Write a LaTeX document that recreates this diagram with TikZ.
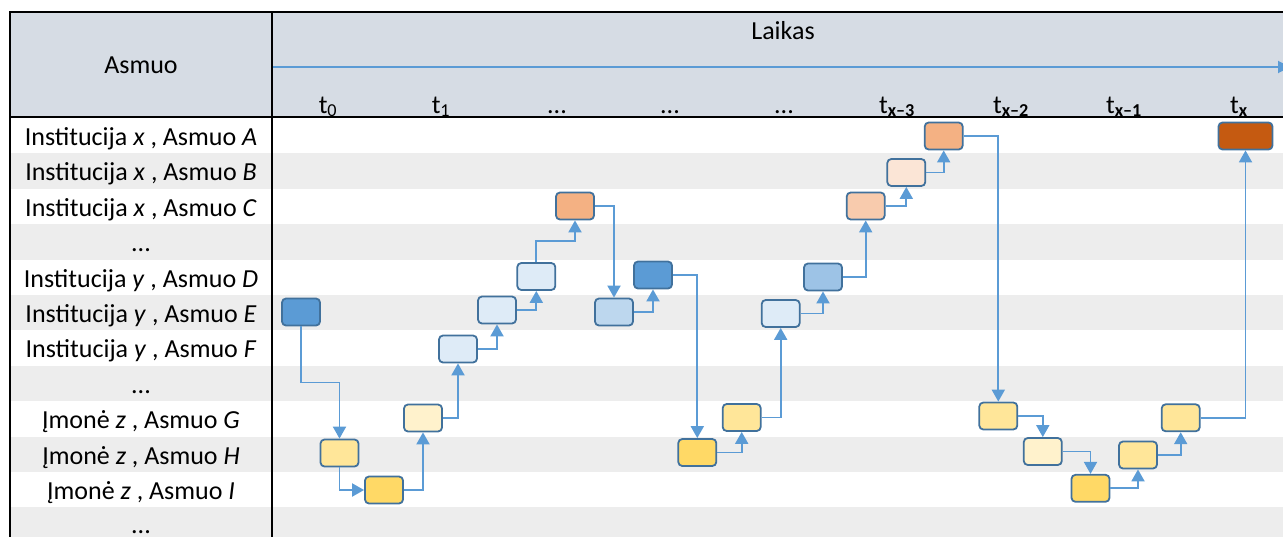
\documentclass[tikz,border=0pt]{standalone}
\usepackage{fontspec}
\setmainfont{Carlito}
\usetikzlibrary{arrows.meta,calc}
\definecolor{hdr}{HTML}{D6DCE4}
\definecolor{stripe}{HTML}{EDEDED}
\definecolor{arr}{HTML}{5B9BD5}
\definecolor{bord}{HTML}{41719C}
\definecolor{cDark}{HTML}{5B9BD5}
\definecolor{cMid}{HTML}{9DC3E6}
\definecolor{cLB}{HTML}{BDD7EE}
\definecolor{cVLB}{HTML}{DEEBF7}
\definecolor{gA}{HTML}{FFD966}
\definecolor{gB}{HTML}{FFE699}
\definecolor{gC}{HTML}{FFF2CC}
\definecolor{oA}{HTML}{F4B183}
\definecolor{oB}{HTML}{F8CBAD}
\definecolor{oC}{HTML}{FBE5D6}
\definecolor{oD}{HTML}{C55A11}
\tikzset{
  bx/.style={draw=bord, line width=1.8pt, rounded corners=4pt, minimum width=38pt, minimum height=27pt, inner sep=0pt, fill=#1},
  con/.style={draw=arr, line width=1.9pt, -{Triangle[length=12pt,width=13pt]}},
  lbl/.style={font=\fontsize{26}{30}\selectfont, inner sep=0pt, anchor=base},
  frame/.style={draw=black, line width=2.2pt}
}
\begin{document}
\begin{tikzpicture}[x=1pt,y=-1pt]
\useasboundingbox (0,0) rectangle (1283,536);
\clip (0,0) rectangle (1283,536);
% stripes
\foreach \i in {1,3,5,7,9,11}
  \fill[stripe] (10,{118+35.4*\i}) rectangle (1300,{118+35.4*(\i+1)});
% header
\fill[hdr] (10,12) rectangle (1300,117);
\draw[arr, line width=1.9pt, -{Triangle[length=12pt,width=12pt]}] (272,67) -- (1290,67);
\draw[frame] (1300,12) -- (10,12) -- (10,545);
\draw[frame] (272,12) -- (272,545);
\draw[frame] (10,117) -- (1300,117);
% header texts
\node[lbl] (hAsmuo) at (141,73) {Asmuo};
\node[lbl] (hLaikas) at (783,39) {Laikas};
\node[lbl] (t0) at (328,113) {t\textsubscript{0}};
\node[lbl] (t1) at (441,113) {t\textsubscript{1}};
\node[lbl] (d1) at (557,113) {...};
\node[lbl] (d2) at (670,113) {...};
\node[lbl] (d3) at (784,113) {...};
\node[lbl] (t3) at (897,113) {t\textsubscript{\textbf{x–3}}};
\node[lbl] (t2) at (1011,113) {t\textsubscript{\textbf{x–2}}};
\node[lbl] (tm) at (1124,113) {t\textsubscript{\textbf{x–1}}};
\node[lbl] (tx) at (1239,113) {t\textsubscript{\textbf{x}}};
% row labels
\node[lbl] (rA) at (141,145.5) {Institucija \textit{x} , Asmuo \textit{A}};
\node[lbl] (rB) at (141,180.9) {Institucija \textit{x} , Asmuo \textit{B}};
\node[lbl] (rC) at (141,216.3) {Institucija \textit{x} , Asmuo \textit{C}};
\node[lbl] (r3) at (141,251.7) {...};
\node[lbl] (rD) at (141,287.1) {Institucija \textit{y} , Asmuo \textit{D}};
\node[lbl] (rE) at (141,322.5) {Institucija \textit{y} , Asmuo \textit{E}};
\node[lbl] (rF) at (141,357.9) {Institucija \textit{y} , Asmuo \textit{F}};
\node[lbl] (r7) at (141,393.3) {...};
\node[lbl] (rG) at (141,428.7) {Įmonė \textit{z} , Asmuo \textit{G}};
\node[lbl] (rH) at (141,464.1) {Įmonė \textit{z} , Asmuo \textit{H}};
\node[lbl] (rI) at (141,499.5) {Įmonė \textit{z} , Asmuo \textit{I}};
\node[lbl] (r11) at (141,533) {...};
% boxes
\node[bx=cDark] (E1) at (301,312) {};
\node[bx=gB] (H1) at (339.5,453) {};
\node[bx=gA] (I1) at (384,490) {};
\node[bx=gC] (G1) at (423,418) {};
\node[bx=cVLB] (F1) at (458,349) {};
\node[bx=cVLB] (Eb) at (497,310) {};
\node[bx=cVLB] (Db) at (536.3,276.5) {};
\node[bx=oA] (C1) at (575,206) {};
\node[bx=cLB] (E2) at (614,312) {};
\node[bx=cDark] (D2) at (653,275) {};
\node[bx=gA] (H2) at (697.3,452.5) {};
\node[bx=gB] (G2) at (741.7,417.5) {};
\node[bx=cVLB] (E3) at (780.7,313.5) {};
\node[bx=cMid] (D3) at (823,277) {};
\node[bx=oB] (C3) at (865.7,206) {};
\node[bx=oC] (B3) at (906.3,172.5) {};
\node[bx=oA] (A3) at (943.7,136) {};
\node[bx=gB] (G4) at (998.3,416) {};
\node[bx=gC] (H4) at (1042.8,451.5) {};
\node[bx=gA] (I4) at (1090.5,488.3) {};
\node[bx=gB] (H5) at (1138,455) {};
\node[bx=gB] (G5) at (1180.7,417.8) {};
\node[bx=oD, minimum width=54pt] (A5) at (1245.5,136) {};
% connectors
\draw[con] (E1.south) |- ($(E1.south)!.5!(H1.north)$) -| (H1.north);
\draw[con] (H1.south) |- (I1.west);
\draw[con] (I1.east) -| (G1.south);
\draw[con] (G1.east) -| (F1.south);
\draw[con] (F1.east) -| (Eb.south);
\draw[con] (Eb.east) -| (Db.south);
\draw[con] (Db.north) |- ($(Db.north)!.5!(C1.south)$) -| (C1.south);
\draw[con] (C1.east) -| (E2.north);
\draw[con] (E2.east) -| (D2.south);
\draw[con] (D2.east) -| (H2.north);
\draw[con] (H2.east) -| (G2.south);
\draw[con] (G2.east) -| (E3.south);
\draw[con] (E3.east) -| (D3.south);
\draw[con] (D3.east) -| (C3.south);
\draw[con] (C3.east) -| (B3.south);
\draw[con] (B3.east) -| (A3.south);
\draw[con] (A3.east) -| (G4.north);
\draw[con] (G4.east) -| (H4.north);
\draw[con] (H4.east) -| (I4.north);
\draw[con] (I4.east) -| (H5.south);
\draw[con] (H5.east) -| (G5.south);
\draw[con] (G5.east) -| (A5.south);
\end{tikzpicture}
\end{document}
